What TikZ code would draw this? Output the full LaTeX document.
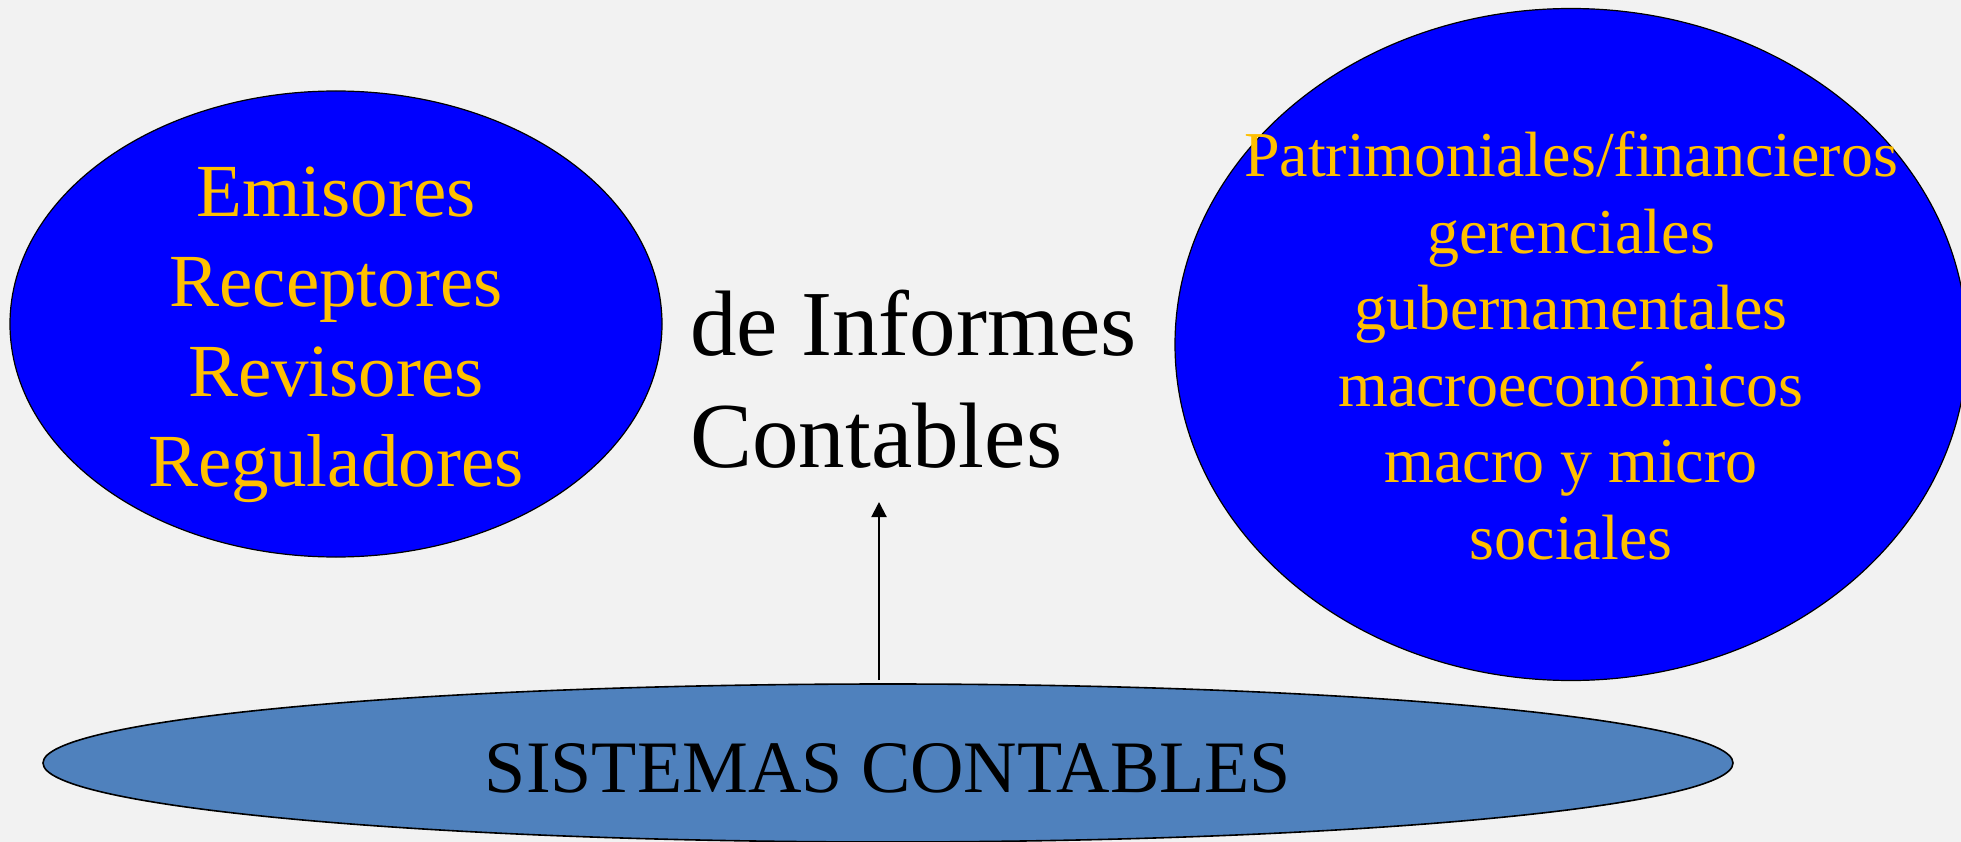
\documentclass[tikz,border=0pt]{standalone}
\usepackage{fontspec}
\setmainfont{Liberation Serif}
\usepackage{xcolor}
\usetikzlibrary{shapes.geometric,arrows.meta}

\definecolor{fondo}{HTML}{F2F2F2}
\definecolor{azul}{HTML}{0000FF}
\definecolor{azulsis}{HTML}{4F81BD}
\definecolor{oro}{HTML}{FFC000}

\begin{document}
\begin{tikzpicture}[x=1pt, y=-1pt,
    globo/.style={ellipse, draw=black, line width=1.2pt, fill=azul, inner sep=0pt},
    rotulo/.style={anchor=base, inner sep=0pt, text=oro}]
    \fill [fondo] (0,0) rectangle (1961,842);
    \useasboundingbox (0,0) rectangle (1961,842);

    \node [globo, minimum width=652pt, minimum height=466pt] (actores) at (336,324) {};
    \node [globo, minimum width=792pt, minimum height=672pt] (tipos) at (1571,344.5) {};
    \node [globo, fill=azulsis, line width=1.6pt, minimum width=1690pt,
    minimum height=158pt] (sis) at (888,763) {};

    \foreach \txt [count=\i] in {Emisores, Receptores, Revisores, Reguladores}
    \node [rotulo, font=\fontsize{75}{90}\selectfont] (actor\i)
    at (336,{217+89.8*(\i-1)}) {\txt};

    \foreach \txt [count=\i] in {Patrimoniales/financieros, gerenciales,
    gubernamentales, macroeconómicos, macro y micro, sociales}
    \node [rotulo, font=\fontsize{64}{77}\selectfont] (tipo\i)
    at (1571,{176.5+76.6*(\i-1)}) {\txt};

    \node [anchor=base west, inner sep=0pt, font=\fontsize{93}{112}\selectfont]
    (de) at (690,355) {de Informes};
    \node [anchor=base west, inner sep=0pt, font=\fontsize{93}{112}\selectfont]
    (contables) at (690,467) {Contables};

    \node [anchor=base, inner sep=0pt, font=\fontsize{74}{89}\selectfont]
    (sistxt) at (888,792) {SISTEMAS CONTABLES};

    \coordinate (punta) at (879,502);
    \draw [-{Triangle[width=15pt,length=15pt]}, line width=2pt]
    (sis.north -| punta) ++(0,-3) -- (punta);
\end{tikzpicture}
\end{document}
